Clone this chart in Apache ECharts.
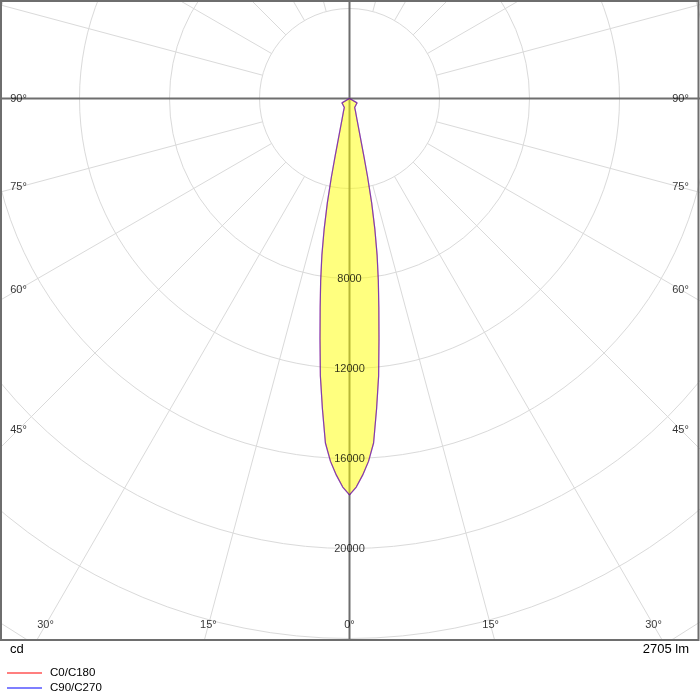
<!DOCTYPE html>
<html>
<head>
<meta charset="utf-8">
<script src="https://cdn.jsdelivr.net/npm/echarts@6/dist/echarts.min.js"></script>
<style>html,body{margin:0;padding:0;background:#fff}#c{width:700px;height:700px}</style>
</head>
<body>
<div id="c"></div>
<script>
// ---- data ----
const gammaAngles = [0,1,2,3,4,5,6,7,8,9,10,11,12,13,14,15,17.5,20,25,30,35,40,45,50,55,60,65,70,75,80,85,90];
const c0c180 = [17620,17270,16750,16150,15350,13830,12390,10760,9370,8190,7070,5900,4740,3580,2660,2050,1300,960,633,460,430,415,405,398,392,388,0,0,0,0,0,0];
const c90c270 = [17620,17270,16750,16150,15350,13830,12390,10760,9370,8190,7070,5900,4740,3580,2660,2050,1300,960,633,460,430,415,405,398,392,388,0,0,0,0,0,0];
const radiusTickLabels = [8000,12000,16000,20000];
const angleTickLabels = [0,15,30,45,60,75,90];
const seriesNames = ['C0/C180','C90/C270'];
const unitText = 'cd';
const fluxText = '2705 lm';

// ---- layout ----
const CX = 349.5, CY = 98.5;
const PX_PER_CD = 90/4000;
const RMAX = 32000;
const FONT = 'Liberation Sans, Arial, sans-serif';

function curve(vals){
  const left = [], right = [];
  for (let i = gammaAngles.length-1; i >= 0; i--) left.push([vals[i], -gammaAngles[i]]);
  for (let i = 1; i < gammaAngles.length; i++) right.push([vals[i], gammaAngles[i]]);
  return left.concat(right);
}

// angle label positions: where each ray meets an inset box
const INSET_X = 331, INSET_BOTTOM = 625;
const angleLabelData = [];
angleTickLabels.forEach(a => {
  const rad = a*Math.PI/180;
  const s = Math.sin(rad), c = Math.cos(rad);
  let t = Infinity;
  if (s > 1e-6) t = Math.min(t, INSET_X/s);
  if (c > 1e-6) t = Math.min(t, (INSET_BOTTOM-CY)/c);
  const r = t/PX_PER_CD;
  if (a === 0) angleLabelData.push([r, 0, a]);
  else { angleLabelData.push([r, a, a]); angleLabelData.push([r, -a, a]); }
});

const chart = echarts.init(document.getElementById('c'), null, {renderer:'canvas'});
const light = '#dadada', dark = '#6e6e6e';
chart.setOption({
  animation:false,
  backgroundColor:'#fff',
  polar:[
    {center:[CX,CY], radius:[4000*PX_PER_CD, RMAX*PX_PER_CD]},
    {center:[CX,CY], radius:[0, RMAX*PX_PER_CD]}
  ],
  angleAxis:[
    {polarIndex:0, type:'value', min:-180, max:180, interval:15, startAngle:90, clockwise:true,
     axisLine:{show:false}, axisTick:{show:false}, axisLabel:{show:false},
     splitLine:{show:true, lineStyle:{color:light, width:1}}},
    {polarIndex:1, type:'value', min:-180, max:180, interval:90, startAngle:90, clockwise:true,
     axisLine:{show:false}, axisTick:{show:false}, axisLabel:{show:false},
     splitLine:{show:true, lineStyle:{color:dark, width:2}}}
  ],
  radiusAxis:[
    {polarIndex:0, type:'value', min:4000, max:RMAX, interval:4000,
     axisLine:{show:false}, axisTick:{show:false}, axisLabel:{show:false},
     splitLine:{show:true, lineStyle:{color:light, width:1}}},
    {polarIndex:1, type:'value', min:0, max:RMAX, interval:4000,
     axisLine:{show:false}, axisTick:{show:false}, axisLabel:{show:false},
     splitLine:{show:false}}
  ],
  legend:{
    data:seriesNames.map(n => ({name:n, icon:'rect'})),
    orient:'vertical', left:7, top:667, padding:0, height:40,
    itemWidth:35, itemHeight:2, itemGap:3,
    textStyle:{fontSize:11.5, fontFamily:FONT, color:'#000', padding:[0,0,0,3]}, z:120
  },
  graphic:[
    {type:'rect', z:100, shape:{x:0,y:641,width:700,height:60}, style:{fill:'#fff'}},
    {type:'rect', z:101, shape:{x:1,y:1,width:697.5,height:639}, style:{fill:'none', stroke:dark, lineWidth:2}},
    {type:'text', z:102, left:10, top:643, style:{text:unitText, fontSize:13, fontFamily:FONT, fill:'#000'}},
    {type:'text', z:102, right:11, top:643, style:{text:fluxText, fontSize:13, fontFamily:FONT, fill:'#000'}}
  ],
  series:[
    {type:'line', name:seriesNames[0], coordinateSystem:'polar', polarIndex:1, data:curve(c0c180),
     symbol:'none', smooth:false, z:3,
     lineStyle:{color:'rgba(255,0,0,0.5)', width:1.2}, itemStyle:{color:'rgba(255,0,0,0.5)'},
     areaStyle:{color:'rgba(255,255,0,0.5)', opacity:1}},
    {type:'line', name:seriesNames[1], coordinateSystem:'polar', polarIndex:1, data:curve(c90c270),
     symbol:'none', smooth:false, z:4,
     lineStyle:{color:'rgba(0,0,255,0.5)', width:1.2}, itemStyle:{color:'rgba(0,0,255,0.5)'}},
    {type:'scatter', coordinateSystem:'polar', polarIndex:1, z:5, symbolSize:1,
     itemStyle:{color:'rgba(0,0,0,0)'},
     data:radiusTickLabels.map(v => [v, 0]),
     label:{show:true, position:'inside', formatter:p => String(p.value[0]), color:'#000', fontSize:11, fontFamily:FONT}},
    {type:'scatter', coordinateSystem:'polar', polarIndex:1, z:5, symbolSize:1,
     itemStyle:{color:'rgba(0,0,0,0)'},
     data:angleLabelData,
     label:{show:true, position:'inside', formatter:p => p.value[2] + '°', color:'#000', fontSize:11, fontFamily:FONT}}
  ]
});
</script>
</body>
</html>
